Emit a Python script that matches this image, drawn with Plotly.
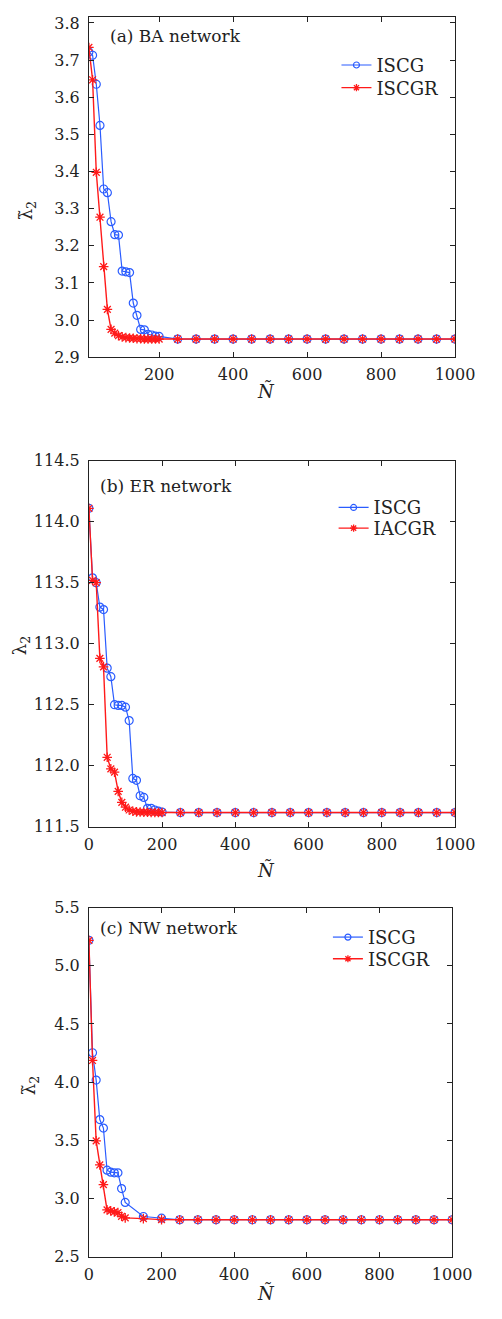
import plotly.graph_objects as go

PAGE_W, PAGE_H = 502, 1319
MARGIN = 8  # default body margin of the html page
W, H = PAGE_W - 2 * MARGIN, PAGE_H - 2 * MARGIN

# ---------------- data ----------------
N_a = [10, 20, 30, 40, 50, 60, 70, 80, 90, 100, 110, 120, 130, 140, 150, 160, 170, 180, 190, 200,
       250, 300, 350, 400, 450, 500, 550, 600, 650, 700, 750, 800, 850, 900, 950, 1000]
iscg_a = [3.722, 3.713, 3.635, 3.524, 3.353, 3.343, 3.265, 3.230, 3.229, 3.132,
          3.130, 3.128, 3.046, 3.013, 2.975, 2.974, 2.962, 2.960, 2.957, 2.956,
          2.949, 2.949, 2.949, 2.949, 2.949, 2.949, 2.949, 2.949,
          2.949, 2.949, 2.949, 2.949, 2.949, 2.949, 2.949, 2.949]
iscgr_a = [3.734, 3.647, 3.398, 3.277, 3.144, 3.029, 2.975, 2.965, 2.958, 2.955,
           2.953, 2.952, 2.951, 2.950, 2.950, 2.949, 2.949, 2.949, 2.949, 2.949,
           2.949, 2.949, 2.949, 2.949, 2.949, 2.949, 2.949, 2.949,
           2.949, 2.949, 2.949, 2.949, 2.949, 2.949, 2.949, 2.949]

N_b = [0, 10, 20, 30, 40, 50, 60, 70, 80, 90, 100, 110, 120, 130, 140, 150, 160, 170, 180, 190, 200,
       250, 300, 350, 400, 450, 500, 550, 600, 650, 700, 750, 800, 850, 900, 950, 1000]
iscg_b = [114.11, 113.54, 113.50, 113.30, 113.28, 112.80, 112.73, 112.50, 112.494, 112.494,
          112.48, 112.37, 111.896, 111.88, 111.754, 111.74, 111.651, 111.651, 111.637, 111.627, 111.62,
          111.616, 111.616, 111.616, 111.616, 111.616, 111.616, 111.616, 111.616,
          111.616, 111.616, 111.616, 111.616, 111.616, 111.616, 111.616, 111.616]
iacgr_b = [114.11, 113.52, 113.50, 112.88, 112.81, 112.069, 111.974, 111.947, 111.79, 111.70,
           111.66, 111.637, 111.627, 111.622, 111.62, 111.619, 111.618, 111.617, 111.616, 111.616, 111.616,
           111.616, 111.616, 111.616, 111.616, 111.616, 111.616, 111.616, 111.616,
           111.616, 111.616, 111.616, 111.616, 111.616, 111.616, 111.616, 111.616]

N_c = [0, 10, 20, 30, 40, 50, 60, 70, 80, 90, 100, 150, 200,
       250, 300, 350, 400, 450, 500, 550, 600, 650, 700, 750, 800, 850, 900, 950, 1000]
iscg_c = [5.218, 4.252, 4.017, 3.678, 3.605, 3.243, 3.226, 3.220, 3.220, 3.085, 2.966, 2.845, 2.831,
          2.817, 2.817, 2.817, 2.817, 2.817, 2.817, 2.817, 2.817,
          2.817, 2.817, 2.817, 2.817, 2.817, 2.817, 2.817, 2.817]
iscgr_c = [5.218, 4.186, 3.495, 3.288, 3.119, 2.902, 2.893, 2.885, 2.878, 2.847, 2.833, 2.827, 2.818,
           2.817, 2.817, 2.817, 2.817, 2.817, 2.817, 2.817, 2.817,
           2.817, 2.817, 2.817, 2.817, 2.817, 2.817, 2.817, 2.817]

x_ticks = [0, 200, 400, 600, 800, 1000]
y_ticks_a = [2.9, 3.0, 3.1, 3.2, 3.3, 3.4, 3.5, 3.6, 3.7, 3.8]
y_ticks_b = [111.5, 112.0, 112.5, 113.0, 113.5, 114.0, 114.5]
y_ticks_c = [2.5, 3.0, 3.5, 4.0, 4.5, 5.0, 5.5]

panel_titles = ["(a) BA network", "(b) ER network", "(c) NW network"]
names_a = ["ISCG", "ISCGR"]
names_b = ["ISCG", "IACGR"]
names_c = ["ISCG", "ISCGR"]

# ---------------- style ----------------
BLUE = "#2a5cff"
RED = "#ff1a1a"
FONT = "DejaVu Serif"
AX = "#222222"


def px_y(p):
    # page pixel -> paper fraction (clamped to the figure)
    return min(1.0, max(0.0, 1 - (p - MARGIN) / H))


def px_x(p):
    return min(1.0, max(0.0, (p - MARGIN) / W))


fig = go.Figure()

panels = [
    (N_a, iscg_a, iscgr_a, names_a, "x", "y", ("legend", "legend2")),
    (N_b, iscg_b, iacgr_b, names_b, "x2", "y2", ("legend3", "legend4")),
    (N_c, iscg_c, iscgr_c, names_c, "x3", "y3", ("legend5", "legend6")),
]
blue_line = dict(color=BLUE, width=1.2)
red_line = dict(color=RED, width=1.4)
for N, s1, s2, nm, xa, ya, lgs in panels:
    fig.add_trace(go.Scatter(
        x=N, y=s1, name=nm[0], mode="lines+markers", xaxis=xa, yaxis=ya, showlegend=False,
        line=blue_line,
        marker=dict(symbol="circle-open", size=8, color=BLUE, line=dict(width=1.2)),
    ))
    fig.add_trace(go.Scatter(
        x=N, y=s2, name=nm[1], mode="lines+markers", xaxis=xa, yaxis=ya, showlegend=False,
        line=red_line,
        marker=dict(symbol="asterisk-open", size=8, color=RED, line=dict(width=1.3, color=RED)),
    ))
    # legend entries (one legend box per entry so rows can be placed like the original)
    fig.add_trace(go.Scatter(
        x=[None], y=[None], name=nm[0], mode="lines+markers", xaxis=xa, yaxis=ya,
        legend=lgs[0], line=blue_line,
        marker=dict(symbol="circle-open", size=6, color=BLUE, line=dict(width=1.2)),
    ))
    fig.add_trace(go.Scatter(
        x=[None], y=[None], name=nm[1], mode="lines+markers", xaxis=xa, yaxis=ya,
        legend=lgs[1], line=red_line,
        marker=dict(symbol="asterisk-open", size=6, color=RED, line=dict(width=1.3, color=RED)),
    ))

common = dict(showline=True, linecolor=AX, linewidth=1, mirror="ticks", ticks="inside",
              ticklen=5, tickcolor=AX, showgrid=False, zeroline=False,
              tickfont=dict(family=FONT, size=16, color=AX))

# page-pixel geometry of each panel (left, right, top, bottom)
geo = [(88, 474, 8, 353.3), (88, 474, 458.3, 829.7), (88, 471, 911.7, 1266)]
yr = [[2.9, 3.816], [111.5, 114.5], [2.5, 5.5]]
yt = [y_ticks_a, y_ticks_b, y_ticks_c]
xr = [[10, 1000], [0, 1000], [0, 1000]]

lay = {}
for i in range(3):
    l, r, t, b = geo[i]
    sx = "" if i == 0 else str(i + 1)
    lay["xaxis" + sx] = dict(common, domain=[px_x(l), px_x(r)], range=xr[i],
                             tickvals=x_ticks, anchor="y" + sx, ticklabelstandoff=3)
    lay["yaxis" + sx] = dict(common, domain=[px_y(b), px_y(t)], range=yr[i],
                             tickvals=yt[i], tickformat=".1f", anchor="x" + sx,
                             ticklabelstandoff=5)

leg_common = dict(font=dict(family=FONT, size=18, color=AX), bgcolor="rgba(0,0,0,0)",
                  xanchor="left", yanchor="middle", itemwidth=30, borderwidth=0)
# (left edge, row centre) in page pixels for each legend row
leg_pos = [(349, 57), (349, 80), (346, 506), (346, 527), (340, 942), (340, 964)]
for k, (lx, ly) in enumerate(leg_pos):
    key = "legend" if k == 0 else "legend%d" % (k + 1)
    lay[key] = dict(leg_common, x=px_x(lx), y=px_y(ly))

annotations = []
title_pos = [(108, 27), (98, 484), (98, 932)]
for (tx, ty), txt in zip(title_pos, panel_titles):
    annotations.append(dict(text=txt, x=px_x(tx), y=px_y(ty), xref="paper", yref="paper",
                            xanchor="left", yanchor="middle", showarrow=False,
                            font=dict(family=FONT, size=17, color=AX)))
# x titles
for cy, cx in [(388, 275), (874, 275), (1303, 275)]:
    annotations.append(dict(text="<i>Ñ</i>", x=px_x(cx), y=px_y(cy), xref="paper", yref="paper",
                            xanchor="center", yanchor="middle", showarrow=False,
                            font=dict(family=FONT, size=18, color=AX)))
# y titles
for cx, cy, txt in [(23, 205, "λ\u0303<sub>2</sub>"), (16, 646, "λ<sub>2</sub>"),
                    (26, 1093, "λ\u0303<sub>2</sub>")]:
    annotations.append(dict(text=txt, x=px_x(cx), y=px_y(cy), xref="paper", yref="paper",
                            xanchor="center", yanchor="middle", showarrow=False, textangle=-90,
                            font=dict(family=FONT, size=18, color=AX)))

fig.update_layout(width=W, height=H, margin=dict(l=0, r=0, t=0, b=0),
                  paper_bgcolor="white", plot_bgcolor="white", annotations=annotations,
                  showlegend=True, **lay)

fig.write_html("out.html")
